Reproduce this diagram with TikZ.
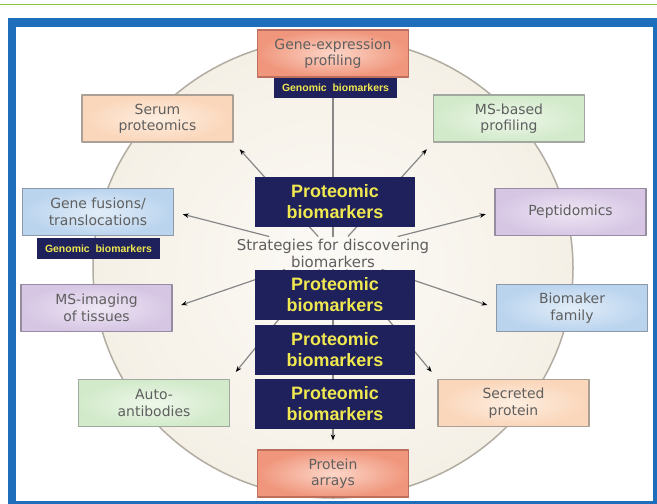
\documentclass[tikz,border=0pt]{standalone}
\usepackage{fontspec}
\setmainfont{DejaVu Sans}
\newfontfamily\labelfont{Liberation Sans}
\usetikzlibrary{arrows.meta}

\definecolor{frameblue}{RGB}{30,110,188}
\definecolor{topgreen}{RGB}{140,198,63}
\definecolor{diskcore}{RGB}{252,250,246}
\definecolor{diskbeige}{RGB}{245,240,230}
\definecolor{diskline}{RGB}{178,172,162}
\definecolor{spokegray}{RGB}{135,135,135}
\definecolor{boxtext}{RGB}{95,95,95}
\definecolor{navy}{RGB}{30,33,92}
\definecolor{markeryellow}{RGB}{240,232,80}
% panel colours: centre, edge, border
\definecolor{salmonin}{RGB}{252,214,200}
\definecolor{salmonout}{RGB}{240,150,124}
\definecolor{salmonline}{RGB}{190,110,92}
\definecolor{peachin}{RGB}{254,238,224}
\definecolor{peachout}{RGB}{250,214,186}
\definecolor{peachline}{RGB}{170,160,150}
\definecolor{greenin}{RGB}{238,247,234}
\definecolor{greenout}{RGB}{210,234,202}
\definecolor{greenline}{RGB}{160,168,160}
\definecolor{bluein}{RGB}{226,237,248}
\definecolor{blueout}{RGB}{186,212,238}
\definecolor{blueline}{RGB}{140,152,168}
\definecolor{lilacin}{RGB}{238,230,244}
\definecolor{lilacout}{RGB}{214,198,228}
\definecolor{lilacline}{RGB}{150,140,160}

\pgfdeclarelayer{background}
\pgfsetlayers{background,main}

\tikzset{
  panel/.style={inner color=#1in, outer color=#1out, draw=#1line,
    line width=1.2bp, minimum width=151bp, minimum height=47bp,
    align=center, text=boxtext, font=\fontsize{14}{16.5}\selectfont},
  probox/.style={fill=navy, text=markeryellow, minimum width=160bp,
    minimum height=50bp, align=center, inner sep=0pt,
    font=\labelfont\bfseries\fontsize{18}{21}\selectfont},
  genetag/.style={fill=navy, text=markeryellow, minimum width=123bp,
    minimum height=20bp, inner sep=0pt,
    font=\labelfont\bfseries\fontsize{10.5}{12}\selectfont},
  spoke/.style={draw=spokegray, line width=1.2bp, shorten >=9bp,
    -{Stealth[length=6bp,width=4.5bp,color=black]}}
}

\begin{document}
\begin{tikzpicture}[x=1bp, y=-1bp, line join=round]
  \useasboundingbox (0,0) rectangle (657,504);

  % outer boxes, clockwise from the top
  \node[panel=salmon] (gexp)   at (333,53.5)  {Gene-expression\\profiling};
  \node[panel=green]  (msb)    at (509,118.5) {MS-based\\profiling};
  \node[panel=lilac]  (pept)   at (570.5,212) {Peptidomics};
  \node[panel=blue]   (biom)   at (572,308)   {Biomaker\\family};
  \node[panel=peach]  (secr)   at (513.5,403) {Secreted\\protein};
  \node[panel=salmon] (arrays) at (333,473.5) {Protein\\arrays};
  \node[panel=green]  (auto)   at (154,403)   {Auto-\\antibodies};
  \node[panel=lilac]  (msimg)  at (96.5,308)  {MS-imaging\\of tissues};
  \node[panel=blue]   (fusion) at (98,212)    {Gene fusions/\\translocations};
  \node[panel=peach]  (serum)  at (157.5,118.5) {Serum\\proteomics};

  % hub text
  \node[text=boxtext, align=center, inner sep=2bp,
        font=\fontsize{15}{17}\selectfont] (strat) at (333,253)
        {Strategies for discovering\\biomarkers};

  % overlaid tags
  \node[genetag] (tagtop)  at (335.5,88)  {Genomic\ \ biomarkers};
  \node[genetag] (tagleft) at (98.5,248.5) {Genomic\ \ biomarkers};
  \node[probox] (prot1) at (335,202)   {Proteomic\\biomarkers};
  \node[probox] (prot2) at (335,295)   {Proteomic\\biomarkers};
  \node[probox] (prot3) at (335,349.5) {Proteomic\\biomarkers};
  \node[probox] (prot4) at (335,404)   {Proteomic\\biomarkers};

  \begin{pgfonlayer}{background}
    % page decoration and frame
    \draw[topgreen, line width=1.5bp] (0,4.5) -- (657,4.5);
    \fill[frameblue] (8,18) rectangle (657,504);
    \fill[white] (16,27) rectangle (653,501);
    % disk behind the boxes
    \draw[inner color=diskcore, outer color=diskbeige, draw=diskline,
          line width=1.5bp] (333,268) ellipse (240bp and 230bp);
    % spokes from the hub
    \foreach \tgt in {gexp.south, msb.south west, pept.west, biom.west,
        secr.north west, arrays.north, auto.north east, msimg.east,
        fusion.east, serum.south east}
      \draw[spoke] (strat) -- (\tgt);
  \end{pgfonlayer}
\end{tikzpicture}
\end{document}
